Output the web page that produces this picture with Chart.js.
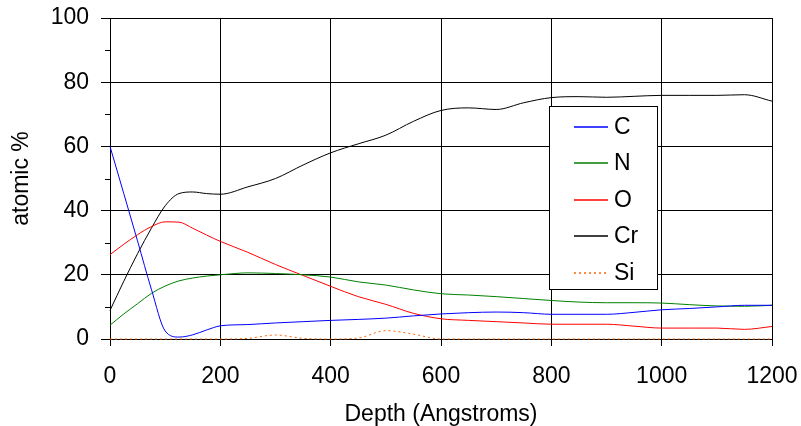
<!DOCTYPE html>
<html>
<head>
<meta charset="utf-8">
<script src="https://cdn.jsdelivr.net/npm/chart.js@4/dist/chart.umd.min.js"></script>
<style>
  html, body { margin: 0; padding: 0; background: #fff; }
  #wrap { width: 801px; height: 426px; }
</style>
</head>
<body>
<div id="wrap"><canvas id="c" width="801" height="426"></canvas></div>
<script>
const depth = [0, 25, 50, 75, 100, 125, 150, 175, 200, 250, 300, 350, 400, 450, 500, 550, 600, 650, 700, 750, 800, 850, 900, 950, 1000, 1050, 1100, 1150, 1200];
const seriesNames = ['C', 'N', 'O', 'Cr', 'Si'];
const carbon   = [60, 45.3, 30.5, 15.5, 2.5, 0.6, 1.3, 2.8, 4.1, 4.5, 5.0, 5.4, 5.8, 6.1, 6.5, 7.2, 7.8, 8.2, 8.4, 8.2, 7.7, 7.7, 7.7, 8.3, 9.1, 9.5, 10.0, 10.5, 10.5];
const nitrogen = [4.3, 7.8, 11, 14.2, 16.5, 18.1, 19.0, 19.6, 20.0, 20.6, 20.4, 20.0, 19.3, 17.8, 16.8, 15.3, 14.1, 13.7, 13.2, 12.6, 12.0, 11.5, 11.3, 11.3, 11.2, 10.7, 10.3, 10.2, 10.5];
const oxygen   = [26.3, 29.5, 32.5, 35, 36.5, 36.4, 34.5, 32.4, 30.4, 27, 23.2, 19.8, 16.4, 13.2, 10.8, 8.0, 6.3, 5.8, 5.4, 5.0, 4.6, 4.6, 4.6, 4.0, 3.4, 3.4, 3.4, 3.0, 3.9];
const chromium = [8.9, 18, 26.6, 34.5, 41.5, 45.3, 45.8, 45.3, 45.1, 47.4, 50, 54.2, 58, 60.8, 63.5, 67.8, 71.2, 72, 71.5, 73.6, 75.2, 75.5, 75.3, 75.6, 75.9, 75.9, 75.9, 76.1, 74.1];
const silicon  = [0, 0, 0, 0, 0, 0, 0, 0, 0, 0.2, 1.25, 0.2, 0, 0.3, 2.6, 1.5, 0, 0, 0, 0, 0, 0, 0, 0, 0, 0, 0, 0, 0];
const xTicks = [0, 200, 400, 600, 800, 1000, 1200];
const yTicks = [0, 20, 40, 60, 80, 100];
const yMinorTicks = [10, 30, 50, 70, 90];

const FONT = "'Liberation Sans', Arial, sans-serif";
const colors = ['#0000ff', '#008000', '#ff0000', '#000000', '#ff6600'];
const values = [carbon, nitrogen, oxygen, chromium, silicon];

const datasets = seriesNames.map((name, i) => ({
  label: name,
  data: depth.map((d, j) => ({ x: d, y: values[i][j] })),
  borderColor: colors[i],
  backgroundColor: colors[i],
  borderWidth: 1,
  borderDash: name === 'Si' ? [2, 3] : [],
  pointRadius: 0,
  cubicInterpolationMode: 'monotone',
  fill: false,
  clip: 2
}));

const minorTicks = {
  id: 'minorTicks',
  afterDraw(chart) {
    const ctx = chart.ctx, y = chart.scales.y, a = chart.chartArea;
    ctx.save();
    ctx.strokeStyle = '#000';
    ctx.lineWidth = 1;
    yMinorTicks.forEach(v => {
      const py = Math.round(y.getPixelForValue(v)) + 0.5;
      ctx.beginPath();
      ctx.moveTo(a.left - 5, py);
      ctx.lineTo(a.left, py);
      ctx.stroke();
    });
    ctx.restore();
  }
};

const boxLegend = {
  id: 'boxLegend',
  afterDraw(chart) {
    const ctx = chart.ctx;
    const bx = 549.5, by = 106.5, bw = 108, bh = 183;
    ctx.save();
    ctx.fillStyle = '#fff';
    ctx.fillRect(bx, by, bw, bh);
    ctx.strokeStyle = '#000';
    ctx.lineWidth = 1;
    ctx.strokeRect(bx, by, bw, bh);
    ctx.font = '23px ' + FONT;
    ctx.textBaseline = 'middle';
    ctx.textAlign = 'left';
    seriesNames.forEach((name, i) => {
      const ry = Math.round(by + 20 + i * 36.6);
      ctx.strokeStyle = colors[i];
      ctx.lineWidth = 1.3;
      ctx.setLineDash(name === 'Si' ? [2, 3] : []);
      ctx.beginPath();
      ctx.moveTo(574, ry);
      ctx.lineTo(608, ry);
      ctx.stroke();
      ctx.setLineDash([]);
      ctx.fillStyle = '#000';
      ctx.fillText(name, 614, ry + 1);
    });
    ctx.restore();
  }
};

new Chart(document.getElementById('c'), {
  type: 'line',
  data: { datasets },
  plugins: [minorTicks, boxLegend],
  options: {
    responsive: false,
    animation: false,
    devicePixelRatio: 1,
    layout: { padding: { left: 0, right: 29, top: 18, bottom: 0 } },
    plugins: { legend: { display: false }, tooltip: { enabled: false } },
    scales: {
      x: {
        type: 'linear',
        min: 0, max: 1200,
        afterFit(s) { s.height = 87; s.paddingLeft = 0; s.paddingRight = 0; },
        afterBuildTicks(s) { s.ticks = xTicks.map(v => ({ value: v })); },
        ticks: { color: '#000', font: { family: FONT, size: 23 }, padding: 17, maxRotation: 0, callback: v => String(v) },
        grid: { color: '#000', lineWidth: 1, tickLength: 7, drawTicks: true },
        border: { color: '#000', width: 1 },
        title: { display: true, text: 'Depth (Angstroms)', color: '#000', font: { family: FONT, size: 23 }, padding: { top: 0, bottom: -2 } }
      },
      y: {
        min: 0, max: 100,
        afterFit(s) { s.width = 110; s.paddingTop = 0; s.paddingBottom = 0; },
        afterBuildTicks(s) { s.ticks = yTicks.map(v => ({ value: v })); },
        ticks: { color: '#000', font: { family: FONT, size: 23 }, padding: 12, callback: v => String(v) },
        grid: { color: '#000', lineWidth: 1, tickLength: 9, drawTicks: true },
        border: { color: '#000', width: 1 },
        title: { display: true, text: 'atomic %', color: '#000', font: { family: FONT, size: 23 }, padding: { top: 8, bottom: 0 } }
      }
    }
  }
});
</script>
</body>
</html>
